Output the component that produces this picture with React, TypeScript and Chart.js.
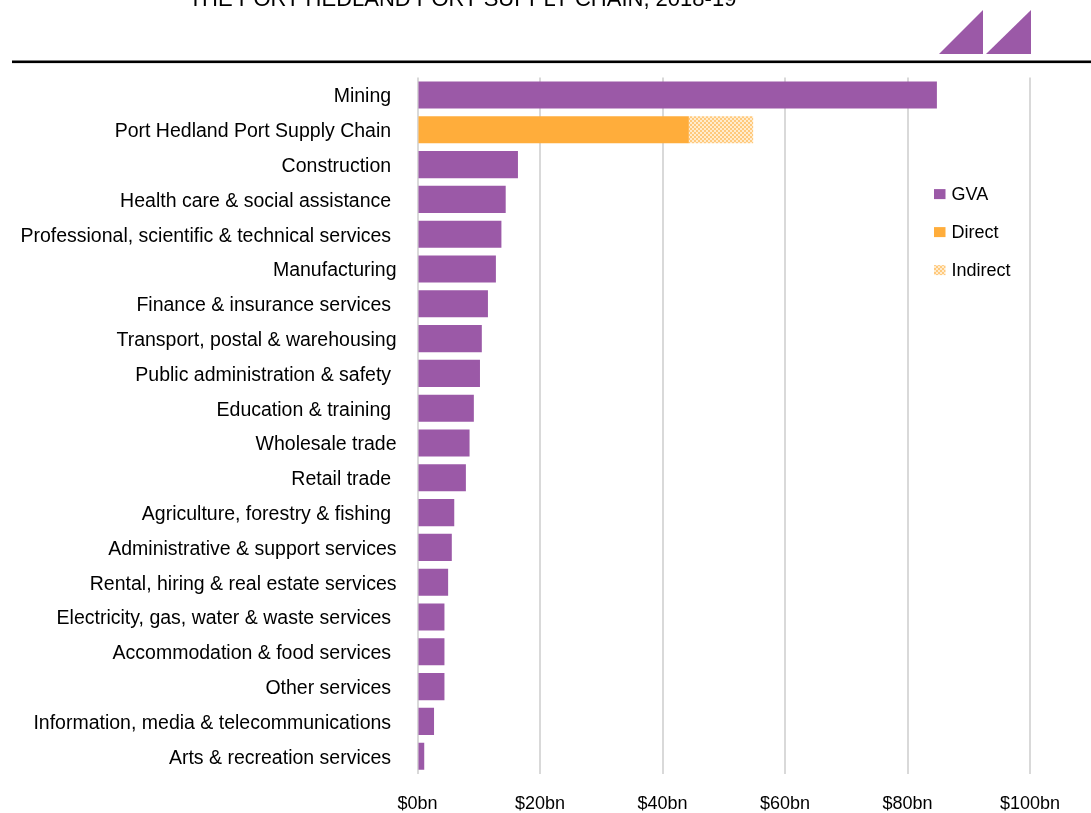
import React, { useEffect, useRef } from "react";
import { Chart, registerables } from "chart.js";

Chart.register(...registerables);

const TITLE = "THE PORT HEDLAND PORT SUPPLY CHAIN, 2018-19";

const categories = [
  "Mining ",
  "Port Hedland Port Supply Chain ",
  "Construction ",
  "Health care & social assistance ",
  "Professional, scientific & technical services ",
  "Manufacturing",
  "Finance & insurance services ",
  "Transport, postal & warehousing",
  "Public administration & safety ",
  "Education & training ",
  "Wholesale trade",
  "Retail trade ",
  "Agriculture, forestry & fishing ",
  "Administrative & support services",
  "Rental, hiring & real estate services",
  "Electricity, gas, water & waste services ",
  "Accommodation & food services ",
  "Other services ",
  "Information, media & telecommunications ",
  "Arts & recreation services ",
];

const gvaValues = [
  84.8, null, 16.4, 14.4, 13.7, 12.8, 11.5, 10.5, 10.2, 9.2, 8.5, 7.9, 6.0, 5.6, 5.0, 4.4, 4.4, 4.4, 2.7, 1.1,
];
const directValues = [
  null, 44.3, null, null, null, null, null, null, null, null, null, null, null, null, null, null, null, null, null, null,
];
const indirectValues = [
  null, 10.5, null, null, null, null, null, null, null, null, null, null, null, null, null, null, null, null, null, null,
];

const seriesNames = ["GVA", "Direct", "Indirect"];
const xTickValues = [0, 20, 40, 60, 80, 100];

const PURPLE = "#9b59a7";
const ORANGE = "#ffad3b";
const GRID = "#d9d9d9";
const FONT = "'Liberation Sans', Arial, sans-serif";

function makePattern(): CanvasPattern | string {
  const c = document.createElement("canvas");
  c.width = 4;
  c.height = 4;
  const g = c.getContext("2d");
  if (!g) return "#ffd49a";
  g.fillStyle = "#ffc97c";
  g.fillRect(0, 0, 4, 4);
  g.fillStyle = "#ffeccf";
  g.fillRect(0, 0, 2, 2);
  g.fillRect(2, 2, 2, 2);
  const p = g.createPattern(c, "repeat");
  return p || "#ffd49a";
}

export default function App() {
  const ref = useRef<HTMLCanvasElement | null>(null);

  useEffect(() => {
    if (!ref.current) return;
    const pattern = makePattern();
    const fills = [PURPLE, ORANGE, pattern];

    const decor = {
      id: "decor",
      afterDraw(chart: any) {
        const ctx = chart.ctx as CanvasRenderingContext2D;
        const area = chart.chartArea;
        ctx.save();
        // title (cut at the top edge)
        ctx.font = `22px ${FONT}`;
        ctx.fillStyle = "#000";
        ctx.textAlign = "center";
        ctx.textBaseline = "alphabetic";
        ctx.fillText(TITLE, 462.5, 5.5);
        // rule
        ctx.fillRect(12, 60.5, 1079, 2.6);
        // logo
        ctx.fillStyle = PURPLE;
        ctx.beginPath();
        ctx.moveTo(939, 54);
        ctx.lineTo(983, 54);
        ctx.lineTo(983, 10);
        ctx.closePath();
        ctx.fill();
        ctx.beginPath();
        ctx.moveTo(986, 54);
        ctx.lineTo(1031, 54);
        ctx.lineTo(1031, 10);
        ctx.closePath();
        ctx.fill();
        // legend
        const lx = area.right - 96;
        const ly0 = area.top + 116.5;
        ctx.font = `18px ${FONT}`;
        ctx.textAlign = "left";
        ctx.textBaseline = "middle";
        seriesNames.forEach((name, i) => {
          const cy = ly0 + i * 38;
          ctx.fillStyle = fills[i] as any;
          ctx.fillRect(lx, cy - 5, 11.5, 10);
          ctx.fillStyle = "#000";
          ctx.fillText(name, lx + 17.5, cy + 1);
        });
        ctx.restore();
      },
    };

    const chart = new Chart(ref.current, {
      type: "bar",
      data: {
        labels: categories,
        datasets: [
          { label: seriesNames[0], data: gvaValues as any, backgroundColor: PURPLE },
          { label: seriesNames[1], data: directValues as any, backgroundColor: ORANGE },
          { label: seriesNames[2], data: indirectValues as any, backgroundColor: pattern as any },
        ],
      },
      options: {
        indexAxis: "y",
        responsive: false,
        animation: false,
        devicePixelRatio: 1,
        layout: { padding: { top: 77.6, right: 61, bottom: 0, left: 0 } },
        datasets: { bar: { categoryPercentage: 1, barPercentage: 0.78 } },
        plugins: {
          legend: { display: false },
          tooltip: { enabled: false },
          title: { display: false },
        },
        scales: {
          x: {
            stacked: true,
            min: 0,
            max: 100,
            afterBuildTicks: (s: any) => {
              s.ticks = xTickValues.map((v) => ({ value: v }));
            },
            ticks: {
              color: "#000",
              font: { size: 18, family: FONT },
              padding: 20,
              maxRotation: 0,
              callback: (v: any) => `$${v}bn`,
            },
            grid: { color: GRID, lineWidth: 2, drawTicks: false },
            border: { display: false },
            afterFit: (s: any) => {
              s.height = 39.4;
            },
          },
          y: {
            stacked: true,
            ticks: {
              color: "#000",
              font: { size: 19.5, family: FONT },
              padding: 21,
              labelOffset: 2,
              autoSkip: false,
            },
            grid: { display: false, drawTicks: false },
            border: { display: false },
            afterFit: (s: any) => {
              s.width = 417.5;
            },
          },
        },
      } as any,
      plugins: [decor],
    });
    return () => chart.destroy();
  }, []);

  return (
    <div style={{ position: "absolute", left: 0, top: 0, width: 1091, height: 813, background: "#fff" }}>
      <canvas ref={ref} width={1091} height={813} style={{ display: "block", width: 1091, height: 813 }} />
    </div>
  );
}
